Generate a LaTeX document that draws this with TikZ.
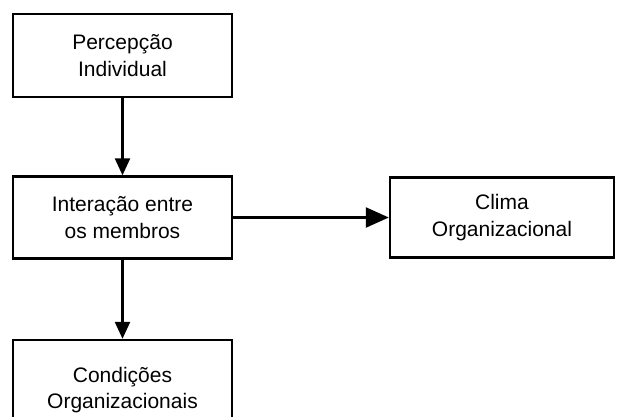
\documentclass[tikz,border=0pt]{standalone}
\usepackage{fontspec}
\setmainfont{Liberation Sans}
\usetikzlibrary{arrows.meta}
\begin{document}
\begin{tikzpicture}[x=1pt,y=-1pt,
  box/.style={draw, line width=2.4pt, minimum width=219pt, inner sep=0pt,
    align=center, font=\fontsize{21}{26.5}\selectfont},
  flow/.style={line width=2.4pt, -{Triangle[length=17pt,width=15pt]}},
  sideflow/.style={line width=2.4pt, -{Triangle[length=23pt,width=20pt]}}]
  \useasboundingbox (0,0) rectangle (624,416);
  \clip (0,0) rectangle (624,416);
  \node[box, minimum height=83pt] (perc) at (122.5,55.5) {Percepção\\Individual};
  \node[box, minimum height=82pt] (inter) at (122.5,217.5) {Interação entre\\os membros};
  \node[box, minimum width=224pt, minimum height=80pt] (clima) at (502,217.5) {Clima\\Organizacional};
  \node[box, minimum height=100pt] (cond) at (122.5,390) {Condições\\Organizacionais};
  \draw[flow] (perc) -- (inter);
  \draw[flow] (inter) -- (cond);
  \draw[sideflow] (inter) -- (clima);
\end{tikzpicture}
\end{document}
